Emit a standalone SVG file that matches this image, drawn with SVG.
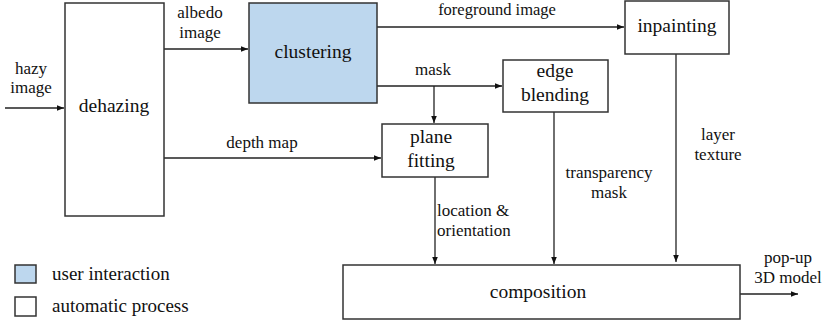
<svg xmlns="http://www.w3.org/2000/svg" width="825" height="322" viewBox="0 0 825 322" font-family="'Liberation Serif', 'DejaVu Serif', 'Times New Roman', serif">
<defs>
<style>
.box{fill:#fff;stroke:#333;stroke-width:1.5}
.user{fill:#bdd7ee}
text{font-family:'Liberation Serif','DejaVu Serif','Times New Roman',serif;fill:#111}
.node{font-size:19.5px;text-anchor:middle}
.lbl{font-size:17px;text-anchor:middle}
.leg{font-size:19px}
.conn{fill:none;stroke:#222;stroke-width:1.3;marker-end:url(#ah)}
</style>
<marker id="ah" viewBox="0 0 10 10" refX="10" refY="5" markerWidth="7" markerHeight="7" markerUnits="userSpaceOnUse" orient="auto">
<path d="M0,1 L10,5 L0,9 z" fill="#111"/>
</marker>
</defs>
<rect width="825" height="322" fill="#fff"/>

<g id="connectors">
<path class="conn" d="M5,108 H64"/>
<path class="conn" d="M164,49 H248"/>
<path class="conn" d="M164,158 H381"/>
<path class="conn" d="M377,27 H624"/>
<path class="conn" d="M377,86 H502"/>
<path class="conn" d="M434,86 V123"/>
<path class="conn" d="M435,177 V264"/>
<path class="conn" d="M554,112 V264"/>
<path class="conn" d="M676,54 V262"/>
<path class="conn" d="M740,294 H798"/>
</g>

<g id="labels">
<text class="lbl" x="31" y="74">hazy</text>
<text class="lbl" x="31" y="93">image</text>
<text class="lbl" x="200" y="18">albedo</text>
<text class="lbl" x="200" y="38">image</text>
<text class="lbl" x="262" y="148">depth map</text>
<text class="lbl" x="497" y="15" style="font-size:16.5px">foreground image</text>
<text class="lbl" x="433" y="75">mask</text>
<text class="lbl" x="718" y="140">layer</text>
<text class="lbl" x="718" y="160">texture</text>
<text class="lbl" x="609" y="178">transparency</text>
<text class="lbl" x="609" y="198">mask</text>
<text class="lbl" x="437" y="216" style="text-anchor:start">location &amp;</text>
<text class="lbl" x="437" y="236" style="text-anchor:start">orientation</text>
<text class="lbl" x="788" y="263">pop-up</text>
<text class="lbl" x="788" y="283">3D model</text>
</g>

<g id="dehazing">
<rect class="box" x="65" y="3" width="99" height="213"/>
<text class="node" x="114" y="112">dehazing</text>
</g>
<g id="clustering">
<rect class="box user" x="249" y="3" width="128" height="100"/>
<text class="node" x="313" y="58">clustering</text>
</g>
<g id="inpainting">
<rect class="box" x="625" y="1" width="104" height="53"/>
<text class="node" x="677" y="32">inpainting</text>
</g>
<g id="edge-blending">
<rect class="box" x="503" y="60" width="105" height="52"/>
<text class="node" x="555" y="77">edge</text>
<text class="node" x="555" y="101">blending</text>
</g>
<g id="plane-fitting">
<rect class="box" x="382" y="124" width="106" height="53"/>
<text class="node" x="431" y="143">plane</text>
<text class="node" x="431" y="167">fitting</text>
</g>
<g id="composition">
<rect class="box" x="343" y="265" width="397" height="54"/>
<text class="node" x="538" y="298">composition</text>
</g>

<g id="legend">
<rect class="box user" x="15" y="265" width="21" height="18"/>
<text class="leg" x="52" y="280">user interaction</text>
<rect class="box" x="15" y="297" width="21" height="19"/>
<text class="leg" x="52" y="312">automatic process</text>
</g>
</svg>
